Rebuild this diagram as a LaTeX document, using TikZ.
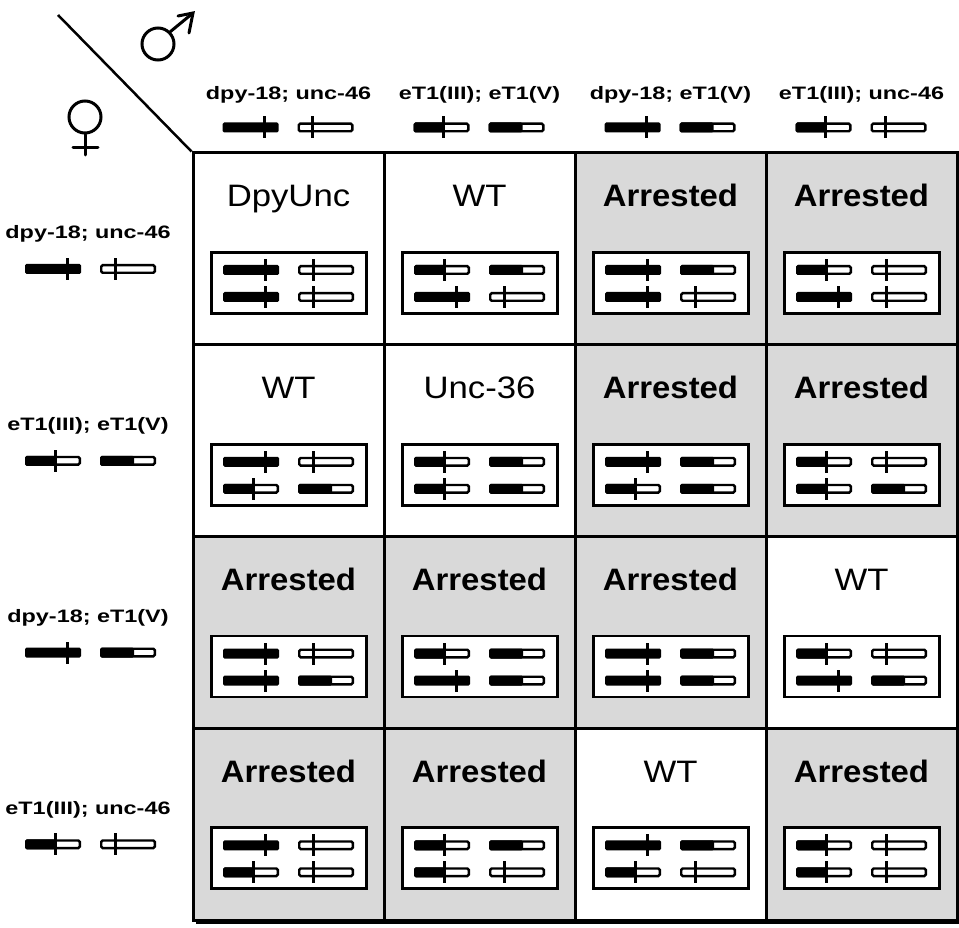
\documentclass[tikz,border=0pt]{standalone}
\usepackage{fontspec}
\setmainfont{Liberation Sans}
\usepackage{graphicx}
\definecolor{cellgray}{RGB}{217,217,217}
% chromosome glyphs (drawn around the origin, units = px)
\newcommand\chrOutline{\draw[line width=2.4,fill=white,rounded corners=1.5] (-26.8,-3.8) rectangle (26.8,3.8);}
\newcommand\chrA{\fill[rounded corners=1.5] (-28,-5) rectangle (28,5); \fill (12.5,-11) rectangle (15.5,11);}
\newcommand\chrB{\chrOutline \fill[rounded corners=1.5] (-28,-5) rectangle (2,5); \fill (0.5,-11) rectangle (3.5,11);}
\newcommand\chrC{\chrOutline \fill (-14.5,-11) rectangle (-11.5,11);}
\newcommand\chrD{\chrOutline \fill[rounded corners=1.5] (-28,-5) rectangle (6,5);}
\newcommand\chrat[3]{\begin{scope}[shift={(#1,#2)}]\csname chr#3\endcsname\end{scope}}
\newcommand\setchr[1]{\ifcase#1\or\def\chL{A}\def\chR{C}\or\def\chL{B}\def\chR{D}\or\def\chL{A}\def\chR{D}\or\def\chL{B}\def\chR{C}\fi}
\begin{document}
\begin{tikzpicture}[x=1pt,y=-1pt,
  plaintitle/.style={font=\fontsize{31}{31}\selectfont, anchor=base, inner sep=0},
  arrtitle/.style={font=\fontsize{31}{31}\selectfont\bfseries, anchor=base, inner sep=0},
  glabel/.style={font=\fontsize{18}{18}\selectfont\bfseries, anchor=base, inner sep=0},
  cellbox/.style={draw, line width=3, minimum width=191, minimum height=191.75, inner sep=0},
  inbox/.style={draw, line width=2.6, fill=white, minimum width=155, minimum height=61, inner sep=0},
  symline/.style={line width=3, line cap=round},
]
\useasboundingbox (0,0) rectangle (959,928);
% cells
\foreach \r/\c/\t/\k in {1/1/DpyUnc/w,1/2/WT/w,1/3/Arrested/g,1/4/Arrested/g,
  2/1/WT/w,2/2/Unc-36/w,2/3/Arrested/g,2/4/Arrested/g,
  3/1/Arrested/g,3/2/Arrested/g,3/3/Arrested/g,3/4/WT/w,
  4/1/Arrested/g,4/2/Arrested/g,4/3/WT/w,4/4/Arrested/g}{
  \pgfmathsetmacro\xa{193+191*(\c-1)}
  \pgfmathsetmacro\ya{153+191.75*(\r-1)}
  \if g\k \def\cf{cellgray}\def\ts{arrtitle}\def\sx{1.06}\else\def\cf{white}\def\ts{plaintitle}\def\sx{1.12}\fi
  \node[cellbox, fill=\cf] (cell-\r-\c) at (\xa+95.5,\ya+95.875) {};
  \node[\ts] (title-\r-\c) at (\xa+95.5,\ya+54) {\scalebox{\sx}[1]{\t}};
  \node[inbox] (box-\r-\c) at (\xa+96,\ya+130) {};
  \setchr{\c}\let\ml\chL\let\mr\chR
  \setchr{\r}\let\fl\chL\let\fr\chR
  \chrat{\xa+58}{\ya+117}{\ml}
  \chrat{\xa+133}{\ya+117}{\mr}
  \chrat{\xa+58}{\ya+144}{\fl}
  \chrat{\xa+133}{\ya+144}{\fr}
}
% bottom shadow
\draw[line width=4] (196,922) -- (959,922);
% column headers (male genotypes)
\foreach \c/\lab in {1/{dpy-18; unc-46},2/{eT1(III); eT1(V)},3/{dpy-18; eT1(V)},4/{eT1(III); unc-46}}{
  \pgfmathsetmacro\xc{288.5+191*(\c-1)}
  \node[glabel] (colhead-\c) at (\xc,100) {\scalebox{1.3}[1]{\lab}};
  \setchr{\c}
  \chrat{\xc-38}{127.5}{\chL}
  \chrat{\xc+37}{127.5}{\chR}
}
% row headers (female genotypes)
\foreach \r/\lab in {1/{dpy-18; unc-46},2/{eT1(III); eT1(V)},3/{dpy-18; eT1(V)},4/{eT1(III); unc-46}}{
  \pgfmathsetmacro\yr{153+191.75*(\r-1)}
  \node[glabel] (rowhead-\r) at (88,\yr+86) {\scalebox{1.3}[1]{\lab}};
  \setchr{\r}
  \chrat{53}{\yr+116}{\chL}
  \chrat{128}{\yr+116}{\chR}
}
% corner: diagonal and sex symbols
\coordinate (diagstart) at (58,15);
\draw[line width=2.5] (diagstart) -- (cell-1-1.north west);
\node[draw, circle, line width=3, minimum size=32, inner sep=0] (female) at (85,117) {};
\draw[symline] (female.south) -- (85,155);
\draw[symline] (73,148) -- (98,148);
\node[draw, circle, line width=3, minimum size=32, inner sep=0] (male) at (158,44) {};
\coordinate (maletip) at (193,13);
\draw[symline] (male.north east) -- (maletip);
\draw[symline] (178,16) -- (maletip) -- (189,33);
\end{tikzpicture}
\end{document}
